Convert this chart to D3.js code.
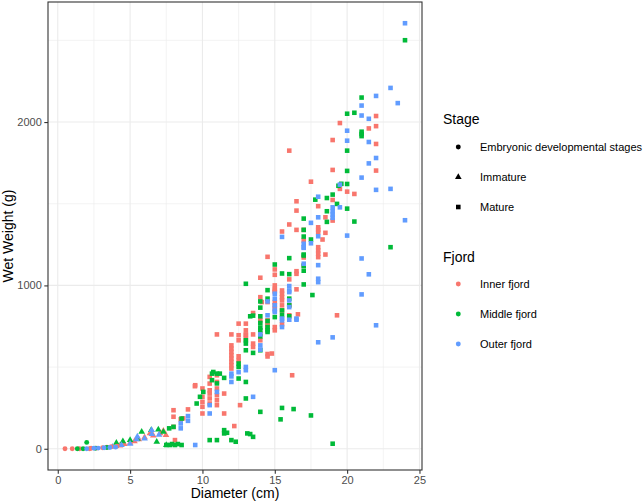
<!DOCTYPE html>
<html>
<head>
<meta charset="utf-8">
<script src="https://cdn.jsdelivr.net/npm/d3@7"></script>
<style>
  html, body { margin: 0; padding: 0; background: #fff; }
  svg { display: block; font-family: "Liberation Sans", Arial, Helvetica, sans-serif; }
</style>
</head>
<body>
<svg id="chart" width="644" height="504"></svg>
<script>
// ---------------- data ----------------
const fjords = ["Inner fjord", "Middle fjord", "Outer fjord"];
const stages = ["Embryonic developmental stages", "Immature", "Mature"];
const xTicks = [0, 5, 10, 15, 20, 25];
const yTicks = [0, 1000, 2000];

// [diameter (cm), wet weight (g)]
const innerEmbryonic = [[0.5,0],[1,0],[1.5,0],[2.2,0],[2.3,3],[2.7,4],[3.1,6],[3.4,9],[3.7,12],[4.1,16]];
const middleEmbryonic = [[1.35,0],[1.75,0],[2,39],[2.6,3],[3.4,8]];
const outerEmbryonic = [[2,0],[2.5,3],[2.8,4],[3.2,6],[3.6,8],[4,10]];

const innerImmature = [[4.3,20],[4.6,28],[5,37],[5.3,45],[5.6,58],[6,70],[6.37,94],[6.6,80],[7.07,94],[7.3,110],[7.48,84]];
const middleImmature = [[4.05,37],[4.5,45],[5,53],[5.5,60],[5.8,104],[6.46,114],[6.95,118],[7.3,104],[6.84,43],[7.5,23]];
const outerImmature = [[3.8,12],[4.4,22],[5,30],[5.45,57],[5.5,75],[6,62],[6.49,114],[6.5,90],[7,85]];

const innerMature = [
  [8,236],[8,196],[8.1,53],[8,134],[8.5,180],[8.67,186],[9,241],[9.5,389],[9.48,383],
  [10,369],[10,318],[10,287],[10,257],[10,216],
  [10.5,440],[10.5,399],[10.5,358],[10.5,338],[10.5,308],[10.5,277],
  [11,700],[11,450],[11,409],[11,369],[11,328],[11,297],[11,267],
  [11.5,338],[11.5,216],
  [12,700],[12,633],[12,613],[12,593],[12,572],[12,552],[12,532],[12,511],[12,491],[12.2,139],
  [12.5,766],[12.5,695],[12.5,664],[12.5,566],[12.5,542],[12.6,267],
  [13,766],[13,725],[13,695],[13,674],[13,700],
  [13.5,831],[13.5,700],[13.5,644],[13.5,623],
  [14,1047],[14,928],[14,786],[14,705],[14,664],[14.1,898],
  [14.5,1175],[14.5,898],[14.5,786],[14.5,762],[14.5,756],[14.5,735],[14.5,580],[14.5,565],
  [15,1098],[15,1065],[15,1000],[15,979],[15,969],[15,959],[15,898],[15,878],[15,858],[15,745],[15,725],[14.8,583],
  [15.5,1330],[15.5,969],[15.5,949],[15.5,928],[15.5,908],[15.5,878],[15.5,847],[15.5,762],
  [16,1825],[16,1373],[16,1037],[16,878],[16,817],[16.2,450],
  [16.5,1515],[16.5,1458],[16.5,1340],[16.5,1087],[16.5,976],[16.5,1071],[16.6,823],
  [17,1275],[17,1171],[17,1122],[17,1340],
  [17.5,1635],
  [18,1485],[18,1356],[18,1340],[18,1326],[18,1234],[18,1214],[18,1194],[18,1173],[18.3,1281],
  [18.5,1417],[18.5,1322],[18.5,1189],
  [19,1890],[19,1707],[19,1523],[19,1397],[19.3,817],
  [19.5,1994],[19.5,1591],[20,1574],[20.5,1560],[21.5,1961],
  [22,2037],[22,1975],[22,1866],[22,1703]
];
const middleMature = [
  [7.5,23],[7.75,23],[8.1,23],[8.56,23],[7.9,29],[8.3,29],[7.7,125],[8,134],[8.56,185],[9.6,277],
  [9.83,318],[10.06,348],
  [10.5,53],[10.66,460],[10.66,420],[10.75,470],
  [11,53],[11,460],[11,400],[11.2,460],
  [11.5,114],[11.5,94],[11.5,434],[11.7,98],
  [12,53],[12.3,43],
  [12.5,501],[12.5,522],[12.5,430],
  [13,1010],[13,664],[13,644],[13,603],[13,409],[13,308],[13.1,94],
  [13.3,811],[13.3,90],[13.5,815],[13.5,587],[13.5,73],
  [14,902],[14,864],[14,811],[14,770],[14,742],[14,725],[14,688],[14,603],[14,226],
  [14.5,971],[14.5,919],[14.5,782],[14.5,745],[14.5,715],[14.5,725],
  [15,1128],[15,806],[15.4,180],
  [15.5,1073],[15.5,847],[15.5,817],[15.5,250],
  [16,1167],[16,1069],[16,919],[16,878],[16,811],[16.3,243],
  [17,1409],[17,1299],[17,1340],[17,1189],[17,1120],[17,1090],[17,1006],[17,1183],
  [17.5,1281],[17.5,204],[17.6,941],[17.8,1525],
  [18.6,1535],[18.6,1454],[18.6,1389],
  [19,1556],[19,31],[19.3,1499],[19.4,1610],[19.6,1622],
  [20,2051],[20,1825],[20,1701],[20,1621],[20,1470],
  [20.5,2057],[20.5,1391],
  [21,2150],[21,1941],[21,1927],[21,1914],
  [23,1234],[24,2501]
];
const outerMature = [
  [8.5,155],[8.5,125],[9,200],[9,171],[9.5,23],
  [10.5,216],[10.5,267],[11,348],
  [12,460],[12,443],[12,409],[12.5,469],
  [13,501],[13,481],[13.5,318],
  [14,700],[14,633],[14,607],
  [14.5,902],[14.5,817],
  [15,949],[15,919],[15,878],[15,847],[15,837],[15,481],
  [15.5,1297],[15.5,797],[15.5,745],[15.5,786],
  [16,996],[16,969],[16,959],[16,908],[16,867],[16,790],
  [16.5,797],[16.5,790],
  [17,1255],[17,1234],[17,1230],[17,1133],
  [17.5,1383],[17.5,1258],
  [18,1543],[18,1417],[18,1301],[18,1124],[18,1041],[18,1020],[18,652],
  [19,1478],[19,1454],[19,1434],[19,1414],[19,682],
  [19.5,1617],[19.5,1478],
  [20,1947],[20,1886],[20,1305],
  [21,2101],[21,2040],[21,1660],[21,1165],[21,945],
  [21.5,2020],[21.5,1878],[21.5,1747],[21.5,1068],
  [22,2160],[22,1780],[22,1585],[22,756],
  [23,2209],[23,1591],[23.5,2116],
  [24,2605],[24,1399]
];

const fjordColors = ["#F8766D", "#00BA38", "#619CFF"];

// series table built from the named arrays
const series = [
  {fjord: 0, stage: 2, pts: innerMature},
  {fjord: 1, stage: 2, pts: middleMature},
  {fjord: 2, stage: 2, pts: outerMature},
  {fjord: 0, stage: 1, pts: innerImmature},
  {fjord: 1, stage: 1, pts: middleImmature},
  {fjord: 2, stage: 1, pts: outerImmature},
  {fjord: 0, stage: 0, pts: innerEmbryonic},
  {fjord: 1, stage: 0, pts: middleEmbryonic},
  {fjord: 2, stage: 0, pts: outerEmbryonic}
];

// ---------------- layout ----------------
const svg = d3.select("#chart");
const panel = {left: 48, right: 422, top: 2, bottom: 470};

const x = d3.scaleLinear().domain([-0.675, 25.175]).range([panel.left, panel.right]);
const y = d3.scaleLinear().domain([-130, 2735]).range([panel.bottom, panel.top]);

const symbolTypes = [d3.symbolCircle, d3.symbolTriangle, d3.symbolSquare];
const symbolSizes = [19, 19, 21];

// grid
const grid = svg.append("g");
const xMinor = [2.5, 7.5, 12.5, 17.5, 22.5];
const yMinor = [500, 1500, 2500];
grid.selectAll(".xminor").data(xMinor).join("line")
  .attr("x1", d => x(d)).attr("x2", d => x(d))
  .attr("y1", panel.top).attr("y2", panel.bottom)
  .attr("stroke", "#EBEBEB").attr("stroke-width", 0.6);
grid.selectAll(".yminor").data(yMinor).join("line")
  .attr("y1", d => y(d)).attr("y2", d => y(d))
  .attr("x1", panel.left).attr("x2", panel.right)
  .attr("stroke", "#EBEBEB").attr("stroke-width", 0.6);
grid.selectAll(".xmajor").data(xTicks).join("line")
  .attr("x1", d => x(d)).attr("x2", d => x(d))
  .attr("y1", panel.top).attr("y2", panel.bottom)
  .attr("stroke", "#EBEBEB").attr("stroke-width", 1.1);
grid.selectAll(".ymajor").data(yTicks).join("line")
  .attr("y1", d => y(d)).attr("y2", d => y(d))
  .attr("x1", panel.left).attr("x2", panel.right)
  .attr("stroke", "#EBEBEB").attr("stroke-width", 1.1);

// points
const pts = svg.append("g");
series.forEach(s => {
  pts.selectAll(null).data(s.pts).join("path")
    .attr("transform", d => `translate(${x(d[0])},${y(d[1])})`)
    .attr("d", d3.symbol().type(symbolTypes[s.stage]).size(symbolSizes[s.stage]))
    .attr("fill", fjordColors[s.fjord]);
});

// panel border
svg.append("rect")
  .attr("x", panel.left).attr("y", panel.top)
  .attr("width", panel.right - panel.left).attr("height", panel.bottom - panel.top)
  .attr("fill", "none").attr("stroke", "#333333").attr("stroke-width", 1.1);

// axes
const xAxis = d3.axisBottom(x).tickValues(xTicks).tickSize(3.7).tickPadding(2.5).tickFormat(d3.format("d"));
const yAxis = d3.axisLeft(y).tickValues(yTicks).tickSize(3.7).tickPadding(2.5).tickFormat(d3.format("d"));

const gx = svg.append("g").attr("transform", `translate(0,${panel.bottom})`).call(xAxis);
const gy = svg.append("g").attr("transform", `translate(${panel.left},0)`).call(yAxis);
[gx, gy].forEach(g => {
  g.select(".domain").remove();
  g.selectAll(".tick line").attr("stroke", "#333333").attr("stroke-width", 1.1);
  g.selectAll(".tick text").attr("fill", "#4D4D4D")
    .style("font-size", "11px").style("font-family", "'Liberation Sans', Arial, sans-serif");
});

// axis titles
svg.append("text")
  .attr("x", (panel.left + panel.right) / 2).attr("y", 498)
  .attr("text-anchor", "middle").style("font-size", "14px").attr("fill", "#000")
  .text("Diameter (cm)");
svg.append("text")
  .attr("transform", `translate(13,${(panel.top + panel.bottom) / 2}) rotate(-90)`)
  .attr("text-anchor", "middle").style("font-size", "14px").attr("fill", "#000")
  .text("Wet Weight (g)");

// legends
const leg = svg.append("g");
leg.append("text").attr("x", 443).attr("y", 124).style("font-size", "14px").text("Stage");
const stageRows = [147, 177, 207];
stages.forEach((s, i) => {
  leg.append("path")
    .attr("transform", `translate(458.3,${stageRows[i]})`)
    .attr("d", d3.symbol().type(symbolTypes[i]).size(symbolSizes[i]))
    .attr("fill", "#000");
  leg.append("text").attr("x", 480).attr("y", stageRows[i] + 4)
    .style("font-size", "11px").text(s);
});
leg.append("text").attr("x", 443).attr("y", 262).style("font-size", "14px").text("Fjord");
const fjordRows = [284, 314, 344];
fjords.forEach((f, i) => {
  leg.append("path")
    .attr("transform", `translate(458.3,${fjordRows[i]})`)
    .attr("d", d3.symbol().type(d3.symbolCircle).size(symbolSizes[0]))
    .attr("fill", fjordColors[i]);
  leg.append("text").attr("x", 480).attr("y", fjordRows[i] + 4)
    .style("font-size", "11px").text(f);
});
</script>
</body>
</html>
